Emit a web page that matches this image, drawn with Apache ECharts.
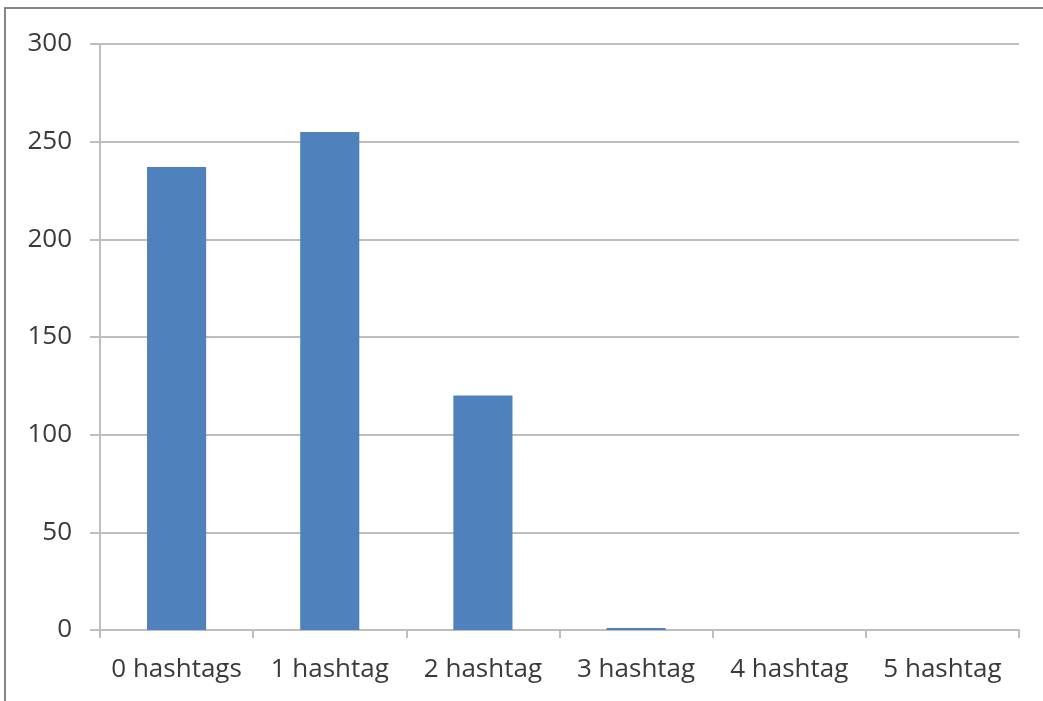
<!DOCTYPE html>
<html>
<head>
<meta charset="utf-8">
<script src="https://cdn.jsdelivr.net/npm/echarts@6/dist/echarts.min.js"></script>
<style>
  html, body { margin: 0; padding: 0; background: #fff; }
  #chart { width: 1043px; height: 701px; }
</style>
</head>
<body>
<div id="chart"></div>
<script>
// Tweet counts by number of hashtags
const categories = ['0 hashtags', '1 hashtag', '2 hashtag', '3 hashtag', '4 hashtag', '5 hashtag'];
const counts = [237, 255, 120, 1, 0, 0];
const yTicks = { min: 0, max: 300, interval: 50 };

const chart = echarts.init(document.getElementById('chart'), null, { renderer: 'canvas' });

const labelFont = { color: '#3a3a3a', fontFamily: 'Open Sans', fontSize: 26 };
const lineGray = '#BEBEBE';

chart.setOption({
  animation: false,
  backgroundColor: '#ffffff',
  graphic: [{
    type: 'rect',
    shape: { x: 5, y: 8, width: 1100, height: 760 },
    style: { fill: null, stroke: '#868686', lineWidth: 2 },
    silent: true
  }],
  grid: { left: 100, right: 24, top: 44, bottom: 71, containLabel: false },
  xAxis: {
    type: 'category',
    data: categories,
    boundaryGap: true,
    axisLine: { show: true, lineStyle: { color: lineGray, width: 2 } },
    axisTick: { show: true, length: 8, alignWithLabel: false, lineStyle: { color: lineGray, width: 2 } },
    axisLabel: Object.assign({ margin: 27, interval: 0 }, labelFont),
    splitLine: { show: false }
  },
  yAxis: {
    type: 'value',
    min: yTicks.min,
    max: yTicks.max,
    interval: yTicks.interval,
    axisLine: { show: true, lineStyle: { color: lineGray, width: 2 } },
    axisTick: { show: true, inside: false, length: 10, lineStyle: { color: lineGray, width: 2 } },
    axisLabel: Object.assign({ margin: 28 }, labelFont),
    splitLine: { show: true, lineStyle: { color: lineGray, width: 2 } }
  },
  series: [{
    type: 'bar',
    data: counts,
    barWidth: '38.6%',
    itemStyle: { color: '#4F81BD' }
  }]
});
</script>
</body>
</html>
